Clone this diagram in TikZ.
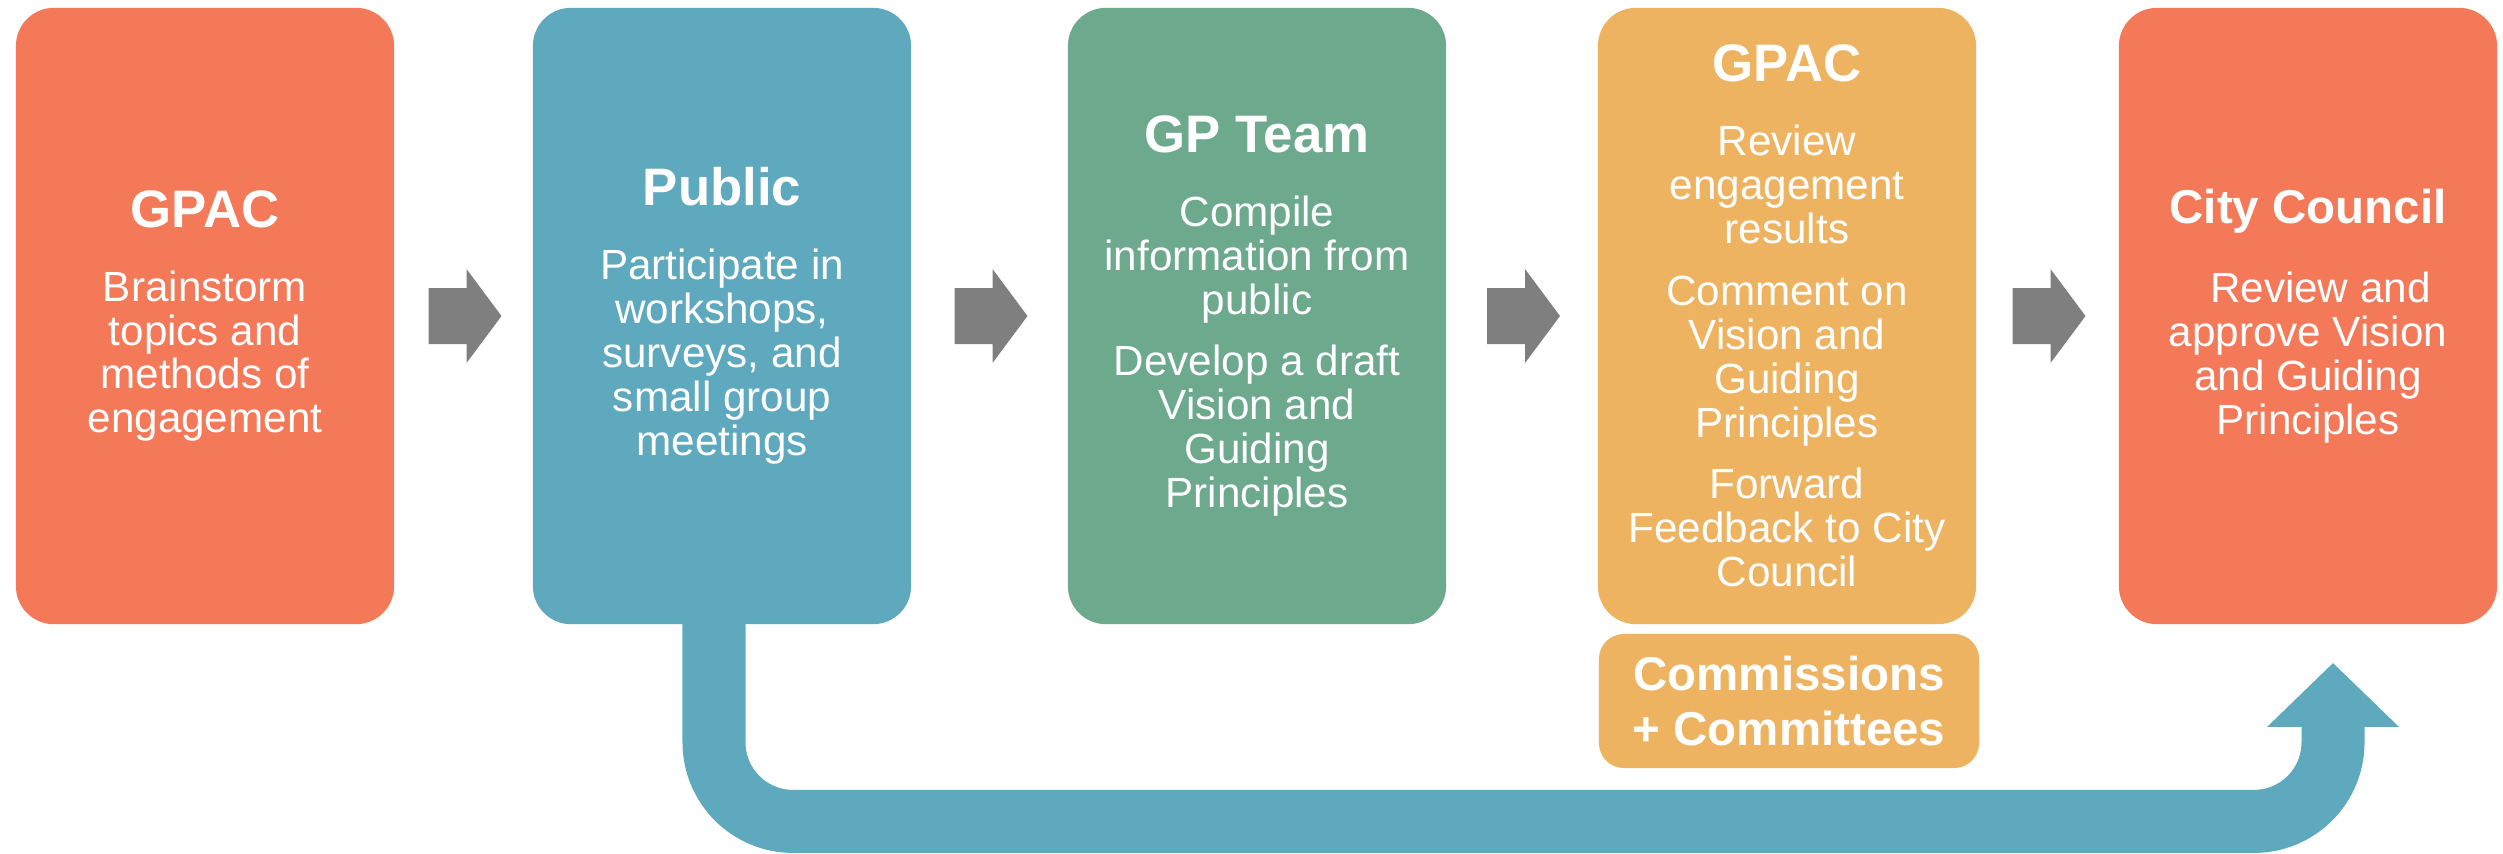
\documentclass[tikz,border=0pt]{standalone}
\usepackage{fontspec}
\setmainfont{Liberation Sans}
\usepackage{tikz}
\usetikzlibrary{calc,arrows.meta}
\definecolor{gpacOrange}{RGB}{243, 121, 88}
\definecolor{publicTeal}{RGB}{94, 169, 189}
\definecolor{teamGreen}{RGB}{108, 169, 141}
\definecolor{reviewGold}{RGB}{237, 179, 96}
\definecolor{arrowGray}{RGB}{127, 127, 127}
\newcommand{\stagetitle}[2][15]{{\bfseries\fontsize{#1}{#1}\selectfont #2}}

\begin{document}
\begin{tikzpicture}[x=0.01cm, y=-0.01cm,
    stage/.style={rounded corners=0.38cm, minimum width=3.78cm, minimum height=6.16cm, inner sep=0pt, align=center, text=white, font=\fontsize{12}{12.5}\selectfont}]
  \useasboundingbox (0,0) rectangle (2503,853);
  \node[stage, fill=gpacOrange] (gpac) at (205,316) {\stagetitle{GPAC}\\[8.5pt]Brainstorm\\topics and\\methods of\\engagement};
  \node[stage, fill=publicTeal] (public) at (722,316) {\stagetitle{Public}\\[8.5pt]Participate in\\workshops,\\surveys, and\\small group\\meetings};
  \node[stage, fill=teamGreen] (gpteam) at (1257,316) {\stagetitle{GP Team}\\[8.5pt]Compile\\information from\\public\\[5pt]Develop a draft\\Vision and\\Guiding\\Principles};
  \node[stage, fill=reviewGold] (gpacReview) at (1787,316) {\stagetitle{GPAC}\\[8.5pt]Review\\engagement\\results\\[5pt]Comment on\\Vision and\\Guiding\\Principles\\[5pt]Forward\\Feedback to City\\Council};
  \node[stage, fill=gpacOrange] (council) at (2308,316) {\stagetitle[13.5]{City Council}\\[10pt]\hspace{7pt}Review and\\approve Vision\\and Guiding\\Principles};
  \node[fill=reviewGold, rounded corners=0.25cm, minimum width=3.8cm, minimum height=1.34cm, inner sep=0pt, align=center, text=white, font=\bfseries\fontsize{13.5}{15.6}\selectfont] (commissions) at (1789,701) {Commissions\\+ Committees};
  \foreach \a/\b in {gpac/public, public/gpteam, gpteam/gpacReview, gpacReview/council}
    \fill[arrowGray] ($(\a.east)!0.5!(\b.west)$) ++(-35,-28) -- ++(38,0) -- ++(0,-19) -- ++(35,47) -- ++(-35,47) -- ++(0,-19) -- ++(-38,0) -- cycle;
  \draw[publicTeal, line width=0.63cm, rounded corners=0.79cm, -{Triangle[width=1.28cm, length=0.64cm]}] ($(public.south)+(-8,-2)$) |- ($(council.south)+(25,196.5)$) -- ($(council.south)+(25,38)$);
\end{tikzpicture}
\end{document}
